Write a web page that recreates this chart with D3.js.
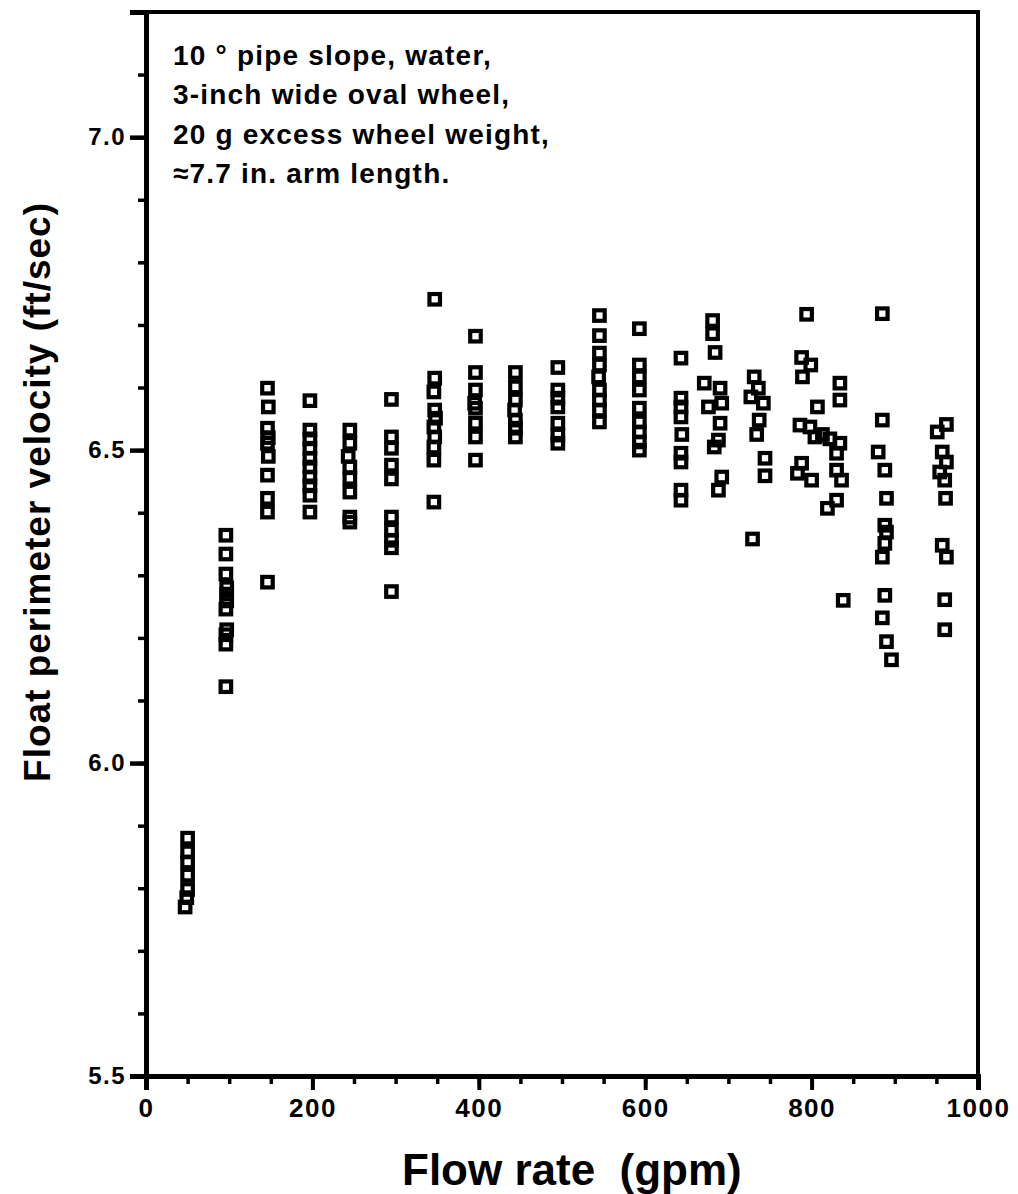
<!DOCTYPE html>
<html>
<head>
<meta charset="utf-8">
<script src="https://cdn.jsdelivr.net/npm/d3@7"></script>
<style>
  html, body { margin: 0; padding: 0; background: #fff; }
  svg { display: block; font-family: "Liberation Sans", Arial, Helvetica, sans-serif; }
</style>
</head>
<body>
<svg id="chart" width="1018" height="1194"></svg>
<script>
// Float perimeter velocity (ft/sec) measured at each flow rate (gpm).
// Each array holds the repeated readings taken at one nominal flow rate.
const run50 = [[50, 5.880], [50, 5.858], [50, 5.842], [50, 5.821], [50, 5.798], [49, 5.785], [47, 5.770]];
const run100 = [[96, 6.364], [96, 6.334], [96, 6.302], [97, 6.280], [97, 6.270], [97, 6.259], [96, 6.246], [97, 6.213], [96, 6.205], [96, 6.190], [96, 6.122]];
const run150 = [[146, 6.599], [147, 6.569], [146, 6.535], [147, 6.520], [146, 6.511], [147, 6.490], [146, 6.460], [146, 6.423], [146, 6.401], [146, 6.289]];
const run200 = [[197, 6.579], [197, 6.532], [197, 6.518], [197, 6.503], [197, 6.487], [197, 6.473], [197, 6.457], [197, 6.443], [197, 6.428], [197, 6.401]];
const run250 = [[245, 6.532], [245, 6.511], [243, 6.490], [245, 6.473], [245, 6.455], [245, 6.433], [245, 6.393], [245, 6.385]];
const run300 = [[295, 6.581], [295, 6.521], [295, 6.503], [295, 6.476], [295, 6.454], [295, 6.393], [295, 6.372], [295, 6.356], [295, 6.344], [295, 6.274]];
const run350 = [[347, 6.741], [347, 6.615], [346, 6.593], [347, 6.564], [348, 6.551], [346, 6.537], [347, 6.521], [346, 6.505], [346, 6.484], [346, 6.417]];
const run400 = [[396, 6.682], [396, 6.624], [396, 6.596], [395, 6.575], [396, 6.567], [396, 6.543], [396, 6.521], [396, 6.484]];
const run450 = [[444, 6.624], [444, 6.601], [444, 6.580], [443, 6.564], [444, 6.548], [444, 6.535], [444, 6.521]];
const run500 = [[495, 6.632], [495, 6.596], [495, 6.583], [495, 6.569], [495, 6.543], [495, 6.524], [495, 6.511]];
const run550 = [[545, 6.715], [545, 6.683], [545, 6.655], [545, 6.636], [544, 6.617], [545, 6.596], [545, 6.580], [545, 6.564], [545, 6.545]];
const run600 = [[593, 6.694], [593, 6.636], [593, 6.617], [593, 6.596], [593, 6.567], [593, 6.545], [593, 6.529], [593, 6.513], [593, 6.500]];
const run650 = [[643, 6.647], [643, 6.583], [643, 6.569], [643, 6.553], [644, 6.525], [643, 6.495], [643, 6.481], [643, 6.436], [643, 6.420]];
const run680 = [[681, 6.707], [681, 6.686], [684, 6.656], [671, 6.607], [690, 6.599], [676, 6.569], [692, 6.575], [690, 6.543], [688, 6.516], [683, 6.505], [692, 6.457], [688, 6.436]];
const run735 = [[731, 6.617], [736, 6.599], [727, 6.585], [742, 6.575], [737, 6.548], [734, 6.525], [744, 6.487], [744, 6.459], [729, 6.358]];
const run800 = [[794, 6.717], [788, 6.648], [799, 6.636], [789, 6.617], [807, 6.569], [786, 6.540], [798, 6.537], [804, 6.521], [813, 6.525], [822, 6.518], [834, 6.511], [830, 6.495], [834, 6.607], [834, 6.580], [788, 6.479], [783, 6.463], [800, 6.452], [830, 6.468], [836, 6.452], [830, 6.420], [819, 6.407], [838, 6.260]];
const run885 = [[885, 6.718], [885, 6.548], [880, 6.497], [888, 6.468], [890, 6.423], [888, 6.380], [890, 6.369], [888, 6.351], [885, 6.329], [888, 6.268], [885, 6.232], [890, 6.194], [896, 6.165]];
const run955 = [[962, 6.541], [951, 6.529], [957, 6.497], [962, 6.481], [954, 6.465], [960, 6.452], [961, 6.423], [957, 6.348], [962, 6.329], [960, 6.261], [960, 6.213]];

const runs = [run50, run100, run150, run200, run250, run300, run350, run400, run450,
  run500, run550, run600, run650, run680, run735, run800, run885, run955];

// Axis ticks and labels
const xMajorTicks = [0, 200, 400, 600, 800, 1000];
const xMinorTicks = d3.range(0, 1001, 50);
const yMajorTicks = [5.5, 6.0, 6.5, 7.0];
const yMinorTicks = d3.range(55, 73, 1).map(v => v / 10);

const xTitle = "Flow rate  (gpm)";
const yTitle = "Float perimeter velocity (ft/sec)";
const noteLines = [
  "10 \u00b0 pipe slope, water,",
  "3-inch wide oval wheel,",
  "20 g excess wheel weight,",
  "\u22487.7 in. arm length."
];

const svg = d3.select("#chart");
const plot = { left: 146, right: 978, top: 12, bottom: 1076 };

const x = d3.scaleLinear().domain([0, 1000]).range([plot.left, plot.right]);
const y = d3.scaleLinear().domain([5.5, 7.2]).range([plot.bottom, plot.top]);

// Frame (top and right edges)
svg.append("rect")
  .attr("x", plot.left).attr("y", plot.top)
  .attr("width", plot.right - plot.left).attr("height", plot.bottom - plot.top)
  .attr("fill", "none").attr("stroke", "#000").attr("stroke-width", 4);

// Minor ticks
svg.append("g")
  .attr("transform", `translate(0,${plot.bottom})`)
  .call(d3.axisBottom(x).tickValues(xMinorTicks).tickSize(8).tickFormat(""))
  .call(g => g.select(".domain").remove())
  .call(g => g.selectAll("line").attr("stroke-width", 3.5));

svg.append("g")
  .attr("transform", `translate(${plot.left},0)`)
  .call(d3.axisLeft(y).tickValues(yMinorTicks).tickSize(8).tickFormat(""))
  .call(g => g.select(".domain").remove())
  .call(g => g.selectAll("line").attr("stroke-width", 3.5));

// Major ticks with labels
const xAxis = svg.append("g")
  .attr("transform", `translate(0,${plot.bottom})`)
  .call(d3.axisBottom(x).tickValues(xMajorTicks).tickSize(14).tickPadding(9).tickFormat(d3.format("d")));
xAxis.select(".domain").attr("stroke-width", 5);
xAxis.selectAll("line").attr("stroke-width", 4);
xAxis.selectAll("text")
  .attr("fill", "#000")
  .style("font-size", "26px").style("font-weight", "bold").style("letter-spacing", "1.5px");

const yAxis = svg.append("g")
  .attr("transform", `translate(${plot.left},0)`)
  .call(d3.axisLeft(y).tickValues(yMajorTicks).tickSize(16).tickPadding(4).tickFormat(d3.format(".1f")));
yAxis.select(".domain").attr("stroke-width", 5);
yAxis.selectAll("line").attr("stroke-width", 4.5);
yAxis.selectAll("text")
  .attr("fill", "#000")
  .style("font-size", "24px").style("font-weight", "bold").style("letter-spacing", "1.5px");

// Data markers: open squares with heavy outlines
const pts = runs.flat();
const s = 10.5;
svg.append("g")
  .selectAll("rect")
  .data(pts)
  .join("rect")
  .attr("x", d => x(d[0]) - s / 2)
  .attr("y", d => y(d[1]) - s / 2)
  .attr("width", s).attr("height", s)
  .attr("fill", "none")
  .attr("stroke", "#000")
  .attr("stroke-width", 4.2);

// Test-condition note
svg.append("g")
  .selectAll("text")
  .data(noteLines)
  .join("text")
  .attr("x", 173)
  .attr("y", (d, i) => 65 + i * 39.3)
  .attr("fill", "#000")
  .style("font-size", "28px").style("font-weight", "bold").style("letter-spacing", "1.2px")
  .text(d => d);

// Axis titles
svg.append("text")
  .attr("x", 402).attr("y", 1185)
  .attr("fill", "#000")
  .style("font-size", "44px").style("font-weight", "bold").style("white-space", "pre")
  .text(xTitle);

svg.append("text")
  .attr("transform", "translate(50,492) rotate(-90)")
  .attr("text-anchor", "middle")
  .attr("fill", "#000")
  .style("font-size", "37px").style("font-weight", "bold").style("letter-spacing", "1px")
  .text(yTitle);
</script>
</body>
</html>
